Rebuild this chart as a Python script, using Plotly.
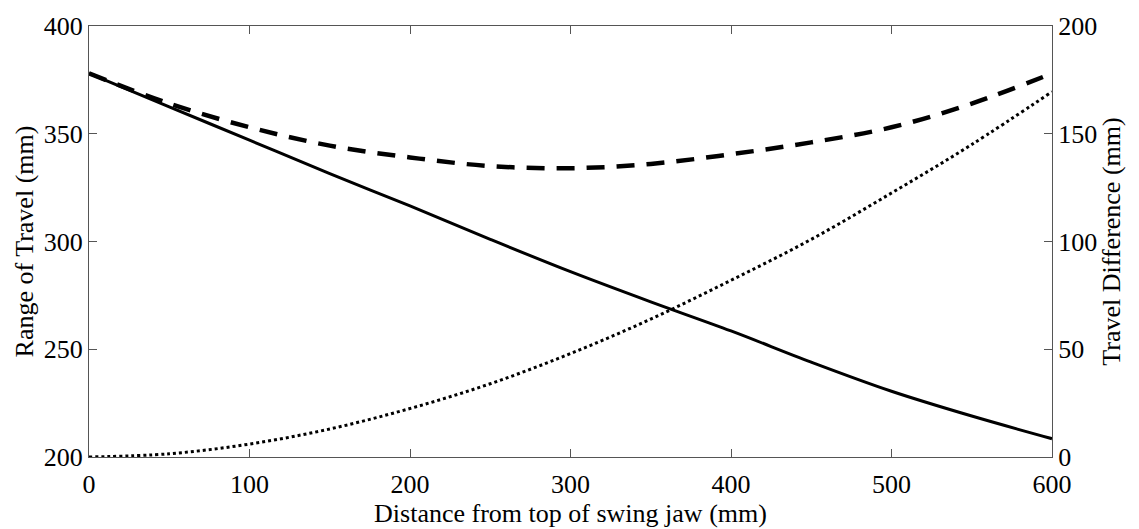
import plotly.graph_objects as go

# Distance from top of swing jaw (mm)
distance = [0, 50, 100, 150, 200, 250, 300, 350, 400, 450, 500, 550, 600]

# Range of travel (mm), left axis
range_solid = [378, 362.5, 347, 331.5, 316.5, 301, 286, 272, 258.5, 244, 230.5, 219, 208.5]
range_dashed = [378, 364, 353, 344.5, 339, 335, 334, 336, 340.5, 346, 353, 364, 378]

# Travel difference (mm), right axis
travel_diff = [0, 1.5, 6, 13, 22.5, 34, 48, 64, 82, 101, 122.5, 145, 169.5]

FONT = "Liberation Serif, Times New Roman, serif"
AXIS_COLOR = "#555555"
SIZE = 26

fig = go.Figure()

fig.add_trace(go.Scatter(
    x=distance, y=range_solid, mode="lines", line_shape="spline",
    line=dict(color="black", width=3), showlegend=False,
))
fig.add_trace(go.Scatter(
    x=distance, y=range_dashed, mode="lines", line_shape="spline",
    line=dict(color="black", width=4.5, dash="18px,12px"), showlegend=False,
))
fig.add_trace(go.Scatter(
    x=distance, y=travel_diff, mode="lines", line_shape="spline", yaxis="y2",
    line=dict(color="black", width=3, dash="3px,3px"), showlegend=False,
))

axis_common = dict(
    showgrid=False, zeroline=False, showline=True, linecolor=AXIS_COLOR,
    linewidth=1, ticks="inside", ticklen=8, tickcolor=AXIS_COLOR,
    tickfont=dict(family=FONT, size=SIZE, color="black"),
)

fig.update_layout(
    width=1139, height=529,
    margin=dict(l=89, r=87, t=18, b=72),
    paper_bgcolor="white", plot_bgcolor="white",
    font=dict(family=FONT, color="black"),
    xaxis=dict(
        range=[0, 600], tickvals=[0, 100, 200, 300, 400, 500, 600],
        mirror="ticks", ticklabelstandoff=4,
        title=dict(text="Distance from top of swing jaw (mm)",
                   font=dict(family=FONT, size=SIZE), standoff=0),
        **axis_common,
    ),
    yaxis=dict(
        range=[200, 400], tickvals=[200, 250, 300, 350, 400],
        title=dict(text="Range of Travel (mm)",
                   font=dict(family=FONT, size=SIZE), standoff=2),
        **axis_common,
    ),
    yaxis2=dict(
        range=[0, 200], tickvals=[0, 50, 100, 150, 200],
        overlaying="y", side="right",
        title=dict(text="Travel Difference (mm)",
                   font=dict(family=FONT, size=SIZE), standoff=2),
        **axis_common,
    ),
)

fig.write_html("out.html")
